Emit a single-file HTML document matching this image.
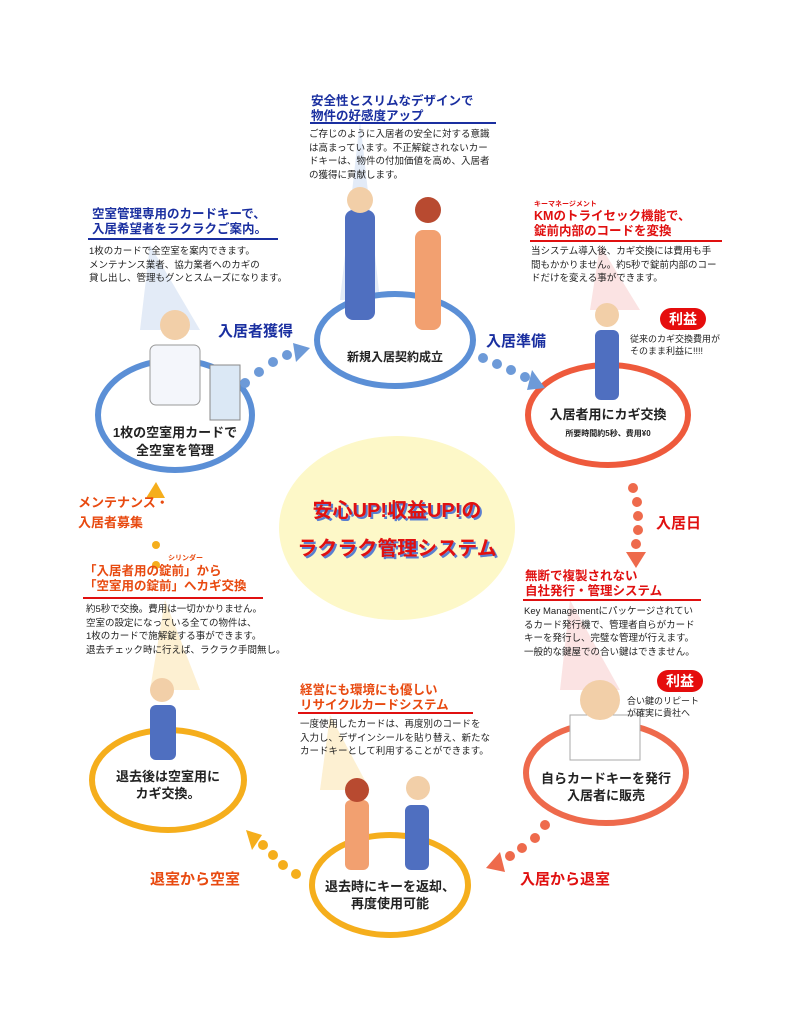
<!DOCTYPE html>
<html><head><meta charset="utf-8">
<style>
body{margin:0;width:800px;height:1021px;background:#fff;position:relative;overflow:hidden;font-family:"Liberation Sans","Noto Sans CJK JP",sans-serif;}
.a{position:absolute;white-space:nowrap;font-weight:bold;}
.t{font-size:12.5px;line-height:14.5px;}
.b{font-size:9.5px;line-height:13.5px;color:#222;font-weight:normal;}
.bl{color:#1a2fa0}.rd{color:#e01010}.or{color:#e84a10}
.ul{position:absolute;height:2px;}
.c{font-size:12px;line-height:17px;color:#222;text-align:center;}
.lbl{font-size:15px;font-weight:bold;}
.pill{position:absolute;background:#e50d0d;color:#fff;border-radius:12px;font-weight:bold;font-size:14px;text-align:center;line-height:22px;}
</style></head><body>
<svg width="800" height="1021" style="position:absolute;left:0;top:0">
<path d="M360 120 L340 300 L380 300 Z" fill="#e3ebf7"/>
<path d="M150 245 L140 330 L200 330 Z" fill="#e3ebf7"/>
<path d="M600 245 L590 310 L640 310 Z" fill="#fbe3e3"/>
<path d="M570 600 L560 690 L620 690 Z" fill="#fbe3e3"/>
<path d="M165 600 L150 690 L200 690 Z" fill="#fdf0d2"/>
<path d="M330 715 L320 790 L370 790 Z" fill="#fdf0d2"/>
<ellipse cx="397" cy="528" rx="118" ry="92" fill="#fdf8c8"/>
<ellipse cx="395" cy="340" rx="78" ry="46" fill="#fff" stroke="#5b8fd6" stroke-width="6"/>
<ellipse cx="175" cy="415" rx="77" ry="55" fill="#fff" stroke="#5b8fd6" stroke-width="6"/>
<ellipse cx="608" cy="415" rx="80" ry="50" fill="#fff" stroke="#ee5a3c" stroke-width="6"/>
<ellipse cx="606" cy="773" rx="80" ry="50" fill="#fff" stroke="#ee6a4c" stroke-width="6"/>
<ellipse cx="390" cy="885" rx="78" ry="50" fill="#fff" stroke="#f5ae1c" stroke-width="6"/>
<ellipse cx="168" cy="780" rx="76" ry="50" fill="#fff" stroke="#f5ae1c" stroke-width="6"/>
<rect x="345" y="210" width="30" height="110" rx="8" fill="#4f6fc0"/>
<circle cx="360" cy="200" r="13" fill="#f2cfa8"/>
<rect x="415" y="230" width="26" height="100" rx="8" fill="#f2a070"/>
<circle cx="428" cy="210" r="13" fill="#b84a30"/>
<rect x="150" y="345" width="50" height="60" rx="6" fill="#f4f6fb" stroke="#999"/>
<circle cx="175" cy="325" r="15" fill="#f2cfa8"/>
<rect x="210" y="365" width="30" height="55" fill="#dbe8f5" stroke="#888"/>
<rect x="595" y="330" width="24" height="70" rx="6" fill="#4f6fc0"/>
<circle cx="607" cy="315" r="12" fill="#f2cfa8"/>
<rect x="570" y="715" width="70" height="45" fill="#fff" stroke="#aaa"/>
<circle cx="600" cy="700" r="20" fill="#f2cfa8"/>
<rect x="150" y="705" width="26" height="55" rx="6" fill="#4f6fc0"/>
<circle cx="162" cy="690" r="12" fill="#f2cfa8"/>
<rect x="345" y="800" width="24" height="70" rx="6" fill="#f2a070"/>
<circle cx="357" cy="790" r="12" fill="#b84a30"/>
<rect x="405" y="805" width="24" height="65" rx="6" fill="#4f6fc0"/>
<circle cx="418" cy="788" r="12" fill="#f2cfa8"/>
<g fill="#6d9ad8"><circle cx="245" cy="383" r="5"/><circle cx="259" cy="372" r="5"/><circle cx="273" cy="362" r="5"/><circle cx="287" cy="355" r="5"/><path d="M293 343 L310 348 L296 362 Z"/></g>
<g fill="#6d9ad8"><circle cx="483" cy="358" r="5"/><circle cx="497" cy="364" r="5"/><circle cx="511" cy="370" r="5"/><circle cx="525" cy="377" r="5"/><path d="M532 370 L545 388 L527 390 Z"/></g>
<g fill="#ee6a4c"><circle cx="633" cy="488" r="5"/><circle cx="637" cy="502" r="5"/><circle cx="638" cy="516" r="5"/><circle cx="638" cy="530" r="5"/><circle cx="636" cy="544" r="5"/><path d="M626 552 L646 552 L636 568 Z"/></g>
<g fill="#ee6a4c"><circle cx="545" cy="825" r="5"/><circle cx="535" cy="838" r="5"/><circle cx="522" cy="848" r="5"/><circle cx="510" cy="856" r="5"/><path d="M486 868 L500 852 L505 872 Z"/></g>
<g fill="#f5ae1c"><circle cx="296" cy="874" r="5"/><circle cx="283" cy="865" r="5"/><circle cx="273" cy="855" r="5"/><circle cx="263" cy="845" r="5"/><path d="M246 830 L262 835 L252 850 Z"/></g>
<g fill="#f5ae1c"><circle cx="156" cy="565" r="4"/><circle cx="156" cy="545" r="4"/><path d="M146 498 L165 498 L156 482 Z"/></g>
</svg>

<div class="a t bl" style="left:311px;top:94px">安全性とスリムなデザインで<br>物件の好感度アップ</div>
<div class="ul" style="left:310px;top:122px;width:186px;background:#1a2fa0"></div>
<div class="a b" style="left:309px;top:128px">ご存じのように入居者の安全に対する意識<br>は高まっています。不正解錠されないカー<br>ドキーは、物件の付加価値を高め、入居者<br>の獲得に貢献します。</div>

<div class="a t bl" style="left:92px;top:207px">空室管理専用のカードキーで、<br>入居希望者をラクラクご案内。</div>
<div class="ul" style="left:88px;top:238px;width:190px;background:#1a2fa0"></div>
<div class="a b" style="left:89px;top:245px">1枚のカードで全空室を案内できます。<br>メンテナンス業者、協力業者へのカギの<br>貸し出し、管理もグンとスムーズになります。</div>

<div class="a rd" style="left:534px;top:199px;font-size:7px">キーマネージメント</div>
<div class="a t rd" style="left:534px;top:209px">KMのトライセック機能で、<br>錠前内部のコードを変換</div>
<div class="ul" style="left:530px;top:240px;width:192px;background:#e01010"></div>
<div class="a b" style="left:531px;top:245px">当システム導入後、カギ交換には費用も手<br>間もかかりません。約5秒で錠前内部のコー<br>ドだけを変える事ができます。</div>
<div class="pill" style="left:660px;top:308px;width:46px">利益</div>
<div class="a b" style="left:630px;top:333px;font-size:9px;line-height:12px">従来のカギ交換費用が<br>そのまま利益に!!!!</div>

<div class="a c" style="left:325px;top:349px;width:140px">新規入居契約成立</div>
<div class="a c" style="left:95px;top:424px;width:160px;font-size:13px;line-height:18px">1枚の空室用カードで<br>全空室を管理</div>
<div class="a c" style="left:530px;top:406px;width:156px;font-size:13px">入居者用にカギ交換</div>
<div class="a c" style="left:530px;top:425px;width:156px;font-size:8px">所要時間約5秒、費用¥0</div>
<div class="a c" style="left:525px;top:770px;width:162px;font-size:13px">自らカードキーを発行<br>入居者に販売</div>
<div class="a c" style="left:310px;top:878px;width:160px;font-size:13px">退去時にキーを返却、<br>再度使用可能</div>
<div class="a c" style="left:92px;top:768px;width:152px;font-size:13px">退去後は空室用に<br>カギ交換。</div>

<div class="a rd" style="left:282px;top:492px;width:230px;text-align:center;font-size:20px;line-height:38px;text-shadow:2px 2px 0 #5a7fd0">安心UP!収益UP!の<br>ラクラク管理システム</div>

<div class="a lbl bl" style="left:218px;top:320px">入居者獲得</div>
<div class="a lbl bl" style="left:486px;top:330px">入居準備</div>
<div class="a lbl rd" style="left:656px;top:512px">入居日</div>
<div class="a lbl rd" style="left:520px;top:868px">入居から退室</div>
<div class="a lbl or" style="left:150px;top:868px">退室から空室</div>
<div class="a or" style="left:78px;top:493px;font-size:13px;line-height:20px">メンテナンス・<br>入居者募集</div>

<div class="a or" style="left:168px;top:553px;font-size:7px">シリンダー</div>
<div class="a t or" style="left:84px;top:564px">「入居者用の錠前」から<br>「空室用の錠前」へカギ交換</div>
<div class="ul" style="left:83px;top:597px;width:180px;background:#e01010"></div>
<div class="a b" style="left:86px;top:603px">約5秒で交換。費用は一切かかりません。<br>空室の設定になっている全ての物件は、<br>1枚のカードで施解錠する事ができます。<br>退去チェック時に行えば、ラクラク手間無し。</div>

<div class="a t rd" style="left:525px;top:569px">無断で複製されない<br>自社発行・管理システム</div>
<div class="ul" style="left:523px;top:599px;width:178px;background:#e01010"></div>
<div class="a b" style="left:524px;top:605px">Key Managementにパッケージされてい<br>るカード発行機で、管理者自らがカード<br>キーを発行し、完璧な管理が行えます。<br>一般的な鍵屋での合い鍵はできません。</div>
<div class="pill" style="left:657px;top:670px;width:46px">利益</div>
<div class="a b" style="left:627px;top:695px;font-size:9px;line-height:12px">合い鍵のリピート<br>が確実に貴社へ</div>

<div class="a t or" style="left:300px;top:683px">経営にも環境にも優しい<br>リサイクルカードシステム</div>
<div class="ul" style="left:298px;top:712px;width:175px;background:#e01010"></div>
<div class="a b" style="left:300px;top:718px">一度使用したカードは、再度別のコードを<br>入力し、デザインシールを貼り替え、新たな<br>カードキーとして利用することができます。</div>
</body></html>
